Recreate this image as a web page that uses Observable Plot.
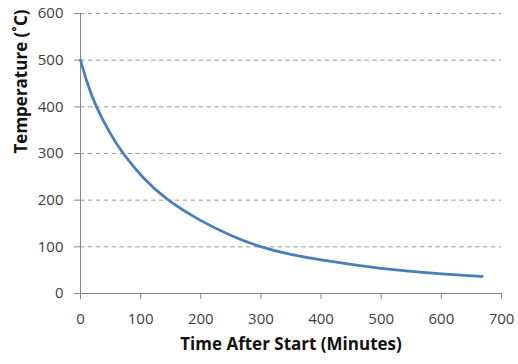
<!DOCTYPE html>
<html>
<head>
<meta charset="utf-8">
<script src="https://cdn.jsdelivr.net/npm/d3@7"></script>
<script src="https://cdn.jsdelivr.net/npm/@observablehq/plot@0.6"></script>
<style>
  html, body { margin: 0; padding: 0; background: #fff; }
</style>
</head>
<body>
<div id="chart"></div>
<script>
const times = [0, 12, 25, 48, 70, 103, 143, 200, 250, 297, 350, 400, 450, 500, 550, 600, 650, 668];
const temps = [500, 447, 402, 345, 300, 248, 200, 155, 123.5, 100, 83, 72, 62.5, 53.5, 47, 42, 38, 36.6];
const xTicks = [0, 100, 200, 300, 400, 500, 600, 700];
const yTicks = [0, 100, 200, 300, 400, 500, 600];
const xTitle = "Time After Start (Minutes)";
const yTitle = "Temperature (˚C)";

const data = times.map((t, i) => ({t, T: temps[i]}));

const chart = Plot.plot({
  width: 518,
  height: 364,
  marginLeft: 80,
  marginRight: 17,
  marginTop: 13,
  marginBottom: 71,
  style: {fontFamily: "'Open Sans', sans-serif", fontSize: "15px", color: "#404040", background: "#fff"},
  x: {domain: [0, 700]},
  y: {domain: [0, 600]},
  marks: [
    Plot.gridY(yTicks.filter(v => v > 0), {stroke: "#9a9a9a", strokeOpacity: 1, strokeDasharray: "4.5,3.4", strokeWidth: 1}),
    Plot.axisY({ticks: yTicks, tickSize: 6, tickPadding: 11, label: null, stroke: "#868686", fontSize: 15}),
    Plot.axisX({ticks: xTicks, tickSize: 6, tickPadding: 14, label: null, stroke: "#868686", fontSize: 15}),
    Plot.ruleX([0], {stroke: "#868686", strokeWidth: 1}),
    Plot.ruleY([0], {stroke: "#868686", strokeWidth: 1}),
    Plot.line(data, {x: "t", y: "T", stroke: "#4a7ebb", strokeWidth: 2.75, curve: "basis"}),
    Plot.text([xTitle], {frameAnchor: "bottom", dy: 56, fontWeight: "bold", fontSize: 17, fill: "#111"}),
    Plot.text([yTitle], {frameAnchor: "left", dx: -59, rotate: -90, fontWeight: "bold", fontSize: 17, fill: "#111"})
  ]
});
document.getElementById("chart").appendChild(chart);
</script>
</body>
</html>
